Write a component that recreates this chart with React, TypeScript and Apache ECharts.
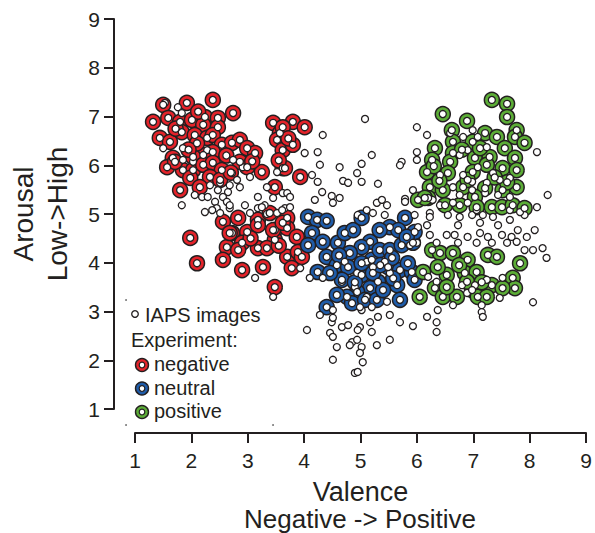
import React, { useEffect, useRef } from "react";
import * as echarts from "echarts";

// ---- axis ticks ----
const xTicks = [1, 2, 3, 4, 5, 6, 7, 8, 9];
const yTicks = [1, 2, 3, 4, 5, 6, 7, 8, 9];

// ---- Experiment: negative images [valence, arousal] ----
const negative: number[][] = [
  [1.92, 7.28], [2.38, 7.34], [1.5, 7.24], [2.74, 7.07], [1.32, 6.89], [1.59, 6.97], [1.8, 6.89], [2.01, 6.93],
  [2.24, 6.99], [2.47, 6.97], [2.21, 6.83], [2.47, 6.78], [1.44, 6.56], [1.62, 6.48], [1.83, 6.68], [2.06, 6.62],
  [2.28, 6.56], [2.38, 6.62], [2.54, 6.42], [2.72, 6.46], [2.86, 6.52], [2.99, 6.35], [3.13, 6.25], [2.38, 6.27],
  [2.21, 6.21], [2.03, 6.17], [1.67, 6.15], [1.57, 5.96], [1.85, 5.9], [1.71, 6.07], [2.03, 5.9], [2.21, 6.01],
  [2.38, 6.05], [2.54, 5.9], [2.33, 5.76], [2.51, 5.7], [2.86, 6.07], [2.99, 5.96], [3.25, 5.86], [1.8, 5.49],
  [1.98, 5.74], [3.45, 6.87], [3.57, 6.66], [3.52, 6.52], [3.62, 6.31], [3.62, 5.94], [3.48, 5.55], [3.8, 6.89],
  [4.01, 6.78], [3.8, 6.42], [3.66, 5.94], [3.93, 5.76], [3.62, 6.78],
  [2.1, 6.45], [1.95, 6.32], [2.62, 6.2], [2.7, 5.85], [3.08, 6.08], [2.15, 5.55], [1.72, 6.75], [2.12, 7.1],
  [3.55, 6.1], [3.72, 6.55],
  [2.56, 4.84], [2.83, 4.92], [2.72, 4.61], [2.99, 4.63], [3.18, 4.88], [3.18, 4.77], [3.39, 5.02], [3.7, 4.92],
  [3.48, 4.67], [3.7, 4.71], [3.48, 4.47], [3.87, 4.53], [1.98, 4.51], [2.63, 4.32], [2.9, 4.41], [3.18, 4.3],
  [3.34, 4.3], [3.7, 4.12], [3.89, 4.22], [3.96, 4.12], [2.56, 4.06], [2.1, 3.99], [2.9, 3.85], [3.27, 3.91],
  [3.78, 3.89], [3.48, 3.5], [2.83, 4.26], [2.68, 4.61], [3.45, 4.67], [3.62, 4.82], [3.05, 4.5], [3.55, 4.35]
];

// ---- Experiment: neutral images ----
const neutral: number[][] = [
  [4.07, 4.94], [4.23, 4.88], [4.4, 4.86], [4.14, 4.61], [4.33, 4.43], [4.07, 4.36], [4.6, 4.41], [4.72, 4.61],
  [4.87, 4.67], [5.02, 4.92], [5.17, 4.43], [5.02, 4.32], [4.81, 4.2], [4.4, 4.12], [4.58, 3.95], [4.78, 3.91],
  [4.24, 3.81], [4.67, 3.65], [5.02, 3.75], [5.2, 4.06], [5.34, 4.26], [5.52, 4.26], [5.73, 4.36], [5.93, 4.41],
  [5.79, 4.92], [5.52, 4.73], [5.34, 4.67], [5.67, 4.67], [5.96, 4.63], [5.82, 4.53], [5.49, 3.91], [5.7, 3.85],
  [5.91, 3.81], [5.96, 3.65], [5.65, 3.54], [5.31, 3.61], [5.17, 3.48], [4.94, 3.4], [4.76, 3.3], [4.58, 3.34],
  [4.4, 3.09], [4.85, 3.17], [5.08, 3.24], [5.29, 3.24], [5.4, 3.44], [5.02, 3.99], [5.22, 3.79], [4.46, 3.79],
  [5.56, 4.1], [5.84, 3.99], [5.7, 3.24], [4.9, 3.6], [5.35, 3.95], [4.62, 4.15], [5.58, 3.68]
];

// ---- Experiment: positive images ----
const positive: number[][] = [
  [7.33, 7.34], [7.6, 7.26], [7.6, 6.99], [6.46, 7.05], [6.89, 6.91], [6.62, 6.72], [7.21, 6.66], [7.42, 6.58],
  [7.77, 6.72], [7.74, 6.58], [7.91, 6.46], [7.56, 6.35], [6.64, 6.48], [6.99, 6.48], [6.32, 6.35], [6.64, 6.25],
  [6.27, 6.11], [6.18, 5.86], [6.59, 6.07], [7.03, 6.15], [7.29, 6.17], [7.74, 6.15], [7.52, 5.94], [7.77, 5.9],
  [7.24, 6.01], [6.99, 5.86], [6.55, 5.84], [6.23, 5.55], [6.46, 5.49], [6.82, 5.55], [7.21, 5.53], [7.52, 5.49],
  [7.77, 5.55], [6.2, 5.33], [6.5, 5.18], [6.76, 5.18], [7.03, 5.35], [7.33, 5.14], [7.51, 5.14], [7.7, 5.18],
  [7.91, 5.12], [6.02, 5.29], [6.14, 5.33], [7.06, 5.14],
  [6.8, 6.32], [7.12, 6.35], [6.4, 5.68], [7.38, 5.75], [6.9, 5.7], [7.6, 5.65], [6.3, 5.98],
  [6.27, 4.26], [6.41, 4.2], [6.64, 4.2], [6.9, 4.06], [7.26, 4.16], [7.42, 4.12], [7.83, 3.99], [6.11, 3.81],
  [6.53, 3.75], [6.85, 3.79], [7.06, 3.81], [7.33, 3.54], [7.7, 3.69], [7.74, 3.48], [7.52, 3.48], [6.05, 3.3],
  [6.32, 3.48], [6.46, 3.3], [6.71, 3.3], [6.98, 3.44], [7.08, 3.3], [7.24, 3.3], [6.37, 3.91], [6.89, 3.61],
  [6.53, 3.5], [6.75, 3.95], [7.15, 3.6]
];

// ---- remaining IAPS images (not used in the experiment) ----
const iapsOther: number[][] = [
  [1.53, 7.28], [1.76, 7.19], [1.83, 7.07], [1.5, 6.35], [1.85, 6.35], [2.28, 6.31], [1.85, 6.11], [2.03, 6.07],
  [1.83, 5.18], [2.06, 5.39], [2.19, 5.35], [2.29, 5.35], [2.47, 5.49], [2.65, 5.45], [2.56, 5.35], [2.33, 5.59],
  [2.51, 5.64], [2.68, 5.59], [2.81, 5.7], [2.72, 5.84], [2.42, 5.25], [2.24, 5.04], [2.45, 5.12], [2.63, 5.25],
  [2.68, 5.12], [2.95, 5.18], [2.86, 5.55], [3.04, 5.76], [2.91, 5.96], [2.74, 6.11], [3.18, 5.35], [3.34, 5.55],
  [3.52, 5.86], [3.04, 5.02], [3.18, 5.12], [3.3, 5.18], [3.45, 5.33], [3.62, 5.43], [3.34, 5.0], [3.52, 5.02],
  [3.66, 5.12], [2.37, 5.08], [2.51, 5.02], [2.68, 5.18], [3.25, 5.14], [3.39, 5.02], [3.61, 5.08], [3.75, 5.14],
  [3.13, 3.69], [3.45, 3.3], [3.93, 3.89],
  [5.08, 6.95], [4.33, 6.62], [6.0, 6.78], [6.18, 6.62], [4.24, 6.27], [4.01, 6.25], [4.28, 6.01], [4.63, 5.96],
  [5.02, 6.03], [5.2, 6.21], [4.94, 5.84], [4.14, 5.8], [4.24, 5.66], [4.69, 5.68], [4.78, 5.64], [5.02, 5.66],
  [5.31, 5.62], [4.32, 5.45], [4.19, 5.29], [4.49, 5.37], [4.51, 5.23], [4.63, 5.33], [5.11, 5.08], [5.29, 5.23],
  [5.38, 5.29], [5.47, 5.18], [5.79, 5.31], [5.73, 6.07], [5.7, 6.0], [6.0, 6.27], [6.0, 6.11], [5.93, 5.49],
  [3.7, 5.43], [3.75, 5.35],
  [5.79, 5.25], [4.95, 4.98], [5.22, 5.02], [5.43, 4.98], [5.96, 4.98], [6.18, 4.77], [6.02, 4.73], [5.11, 4.02],
  [4.94, 3.79], [5.22, 3.91], [5.52, 3.79], [4.1, 3.69], [4.67, 3.61], [4.28, 2.93], [4.51, 3.03], [5.02, 3.03],
  [5.2, 3.09], [5.31, 2.89], [5.52, 2.93], [5.7, 2.78], [5.93, 2.7], [6.18, 2.89], [6.35, 2.78], [4.49, 2.78],
  [4.67, 2.68], [4.78, 2.72], [4.99, 2.68], [5.17, 2.78], [4.05, 2.62], [4.46, 2.56], [4.95, 2.62], [5.2, 2.58],
  [4.51, 2.48], [5.52, 2.42], [4.85, 2.37], [4.94, 2.42], [5.02, 2.27], [4.81, 2.31], [5.29, 2.31], [4.58, 2.27],
  [4.99, 2.15], [4.51, 2.01], [5.04, 1.96], [4.9, 1.74], [4.95, 1.76], [6.35, 2.58],
  [4.72, 4.02], [4.9, 3.5], [5.11, 3.3], [5.47, 3.2], [4.99, 3.09], [4.51, 2.87], [4.33, 3.69], [5.43, 4.02],
  [6.23, 5.02], [6.55, 4.98], [6.76, 4.94], [6.98, 4.98], [7.17, 4.98], [7.35, 4.94], [7.65, 4.88], [7.91, 4.98],
  [7.12, 4.82], [6.73, 4.77], [7.44, 4.77], [6.53, 4.57], [6.67, 4.57], [6.9, 4.53], [7.12, 4.61], [7.26, 4.53],
  [7.51, 4.57], [7.68, 4.53], [7.79, 4.67], [8.09, 4.67], [6.23, 4.57], [6.0, 4.41], [6.35, 4.41], [6.73, 4.41],
  [7.06, 4.41], [7.33, 4.41], [7.6, 4.41], [7.77, 4.43], [7.95, 4.53], [7.91, 4.26], [8.06, 4.26], [8.23, 4.3],
  [8.3, 4.1], [8.06, 3.19], [7.15, 2.99], [7.17, 2.89], [5.88, 4.36],
  [6.2, 3.71], [6.35, 3.61], [6.8, 3.54], [7.03, 3.54], [7.24, 3.65], [7.52, 3.69], [6.89, 3.38], [7.47, 3.28],
  [6.64, 3.13], [7.15, 3.13], [6.37, 3.03],
  [8.13, 6.27], [8.32, 5.39], [6.59, 6.66], [6.82, 6.58], [6.99, 6.72], [7.08, 6.58], [6.9, 6.31], [7.24, 6.37],
  [6.76, 6.21], [7.08, 5.96], [7.35, 5.84], [6.82, 5.8], [6.41, 5.8], [6.98, 5.66], [6.64, 5.55], [7.24, 5.64],
  [7.47, 5.7], [7.65, 5.74], [6.76, 5.39], [6.98, 5.49], [7.21, 5.43], [7.44, 5.39], [7.65, 5.35], [6.28, 5.29],
  [6.41, 5.18], [6.64, 5.23], [6.9, 5.23], [7.06, 5.08], [7.65, 5.08], [7.83, 5.04], [8.13, 5.14], [6.23, 4.94]
];

// ---- text labels ----
const xName = "Valence";
const xSubName = "Negative -> Positive";
const yName = "Arousal\nLow->High";
const legendIaps = "IAPS images";
const legendTitle = "Experiment:";
const legendNames = ["negative", "neutral", "positive"];
const legendColors = ["#e4232a", "#1f5ca9", "#5cad37"];

const FONT = "Liberation Sans, Arial, Helvetica, sans-serif";
const INK = "#231f20";

export default function App() {
  const ref = useRef<HTMLDivElement>(null);

  useEffect(() => {
    if (!ref.current) return;
    const chart = echarts.init(ref.current, undefined, { renderer: "svg" });

    const allIaps = iapsOther.concat(negative, neutral, positive);

    const expSeries = [negative, neutral, positive].map((d, i) => ({
      name: legendNames[i],
      type: "scatter",
      data: d,
      symbol: "circle",
      symbolSize: 15,
      itemStyle: { color: legendColors[i], borderColor: INK, borderWidth: 1.5, opacity: 1 },
      z: 2,
    }));

    const gfx: any[] = [];
    gfx.push({
      type: "text",
      x: 360,
      y: 532,
      style: {
        text: xSubName,
        font: `26px ${FONT}`,
        fill: INK,
        textAlign: "center",
        textVerticalAlign: "bottom",
      },
    });
    gfx.push({
      type: "circle",
      shape: { cx: 135, cy: 314, r: 3.3 },
      style: { fill: "#fff", stroke: INK, lineWidth: 1.3 },
    });
    gfx.push({
      type: "text",
      x: 145,
      y: 315,
      style: { text: legendIaps, font: `20px ${FONT}`, fill: INK, textVerticalAlign: "middle" },
    });
    gfx.push({
      type: "text",
      x: 131,
      y: 340,
      style: { text: legendTitle, font: `20px ${FONT}`, fill: INK, textVerticalAlign: "middle" },
    });
    legendNames.forEach((n, i) => {
      const cy = 365 + i * 23.5;
      gfx.push({
        type: "circle",
        shape: { cx: 142, cy, r: 6.5 },
        style: { fill: legendColors[i], stroke: INK, lineWidth: 1.4 },
      });
      gfx.push({
        type: "circle",
        shape: { cx: 142, cy, r: 2.8 },
        style: { fill: "#fff", stroke: INK, lineWidth: 1.2 },
      });
      gfx.push({
        type: "text",
        x: 154,
        y: cy - 1,
        style: { text: n, font: `20px ${FONT}`, fill: INK, textVerticalAlign: "middle" },
      });
    });
    [[126, 300], [273, 300], [126, 425], [273, 425]].forEach(([cx, cy]) => {
      gfx.push({ type: "circle", shape: { cx, cy, r: 0.9 }, style: { fill: "#666" } });
    });

    chart.setOption({
      animation: false,
      backgroundColor: "#fff",
      grid: { left: 135, right: 9, top: 19, bottom: 124, containLabel: false, outerBoundsMode: "none" },
      xAxis: {
        type: "value",
        min: xTicks[0],
        max: xTicks[xTicks.length - 1],
        interval: 1,
        offset: 24,
        splitLine: { show: false },
        axisLine: { show: true, onZero: false, lineStyle: { color: INK, width: 2 } },
        axisTick: { show: true, length: 10, lineStyle: { color: INK, width: 2 } },
        axisLabel: { color: INK, fontSize: 21, fontFamily: FONT, margin: 17 },
        name: xName,
        nameLocation: "middle",
        nameGap: 45,
        nameTextStyle: { color: INK, fontSize: 27, fontFamily: FONT },
      },
      yAxis: {
        type: "value",
        min: yTicks[0],
        max: yTicks[yTicks.length - 1],
        interval: 1,
        offset: 21,
        splitLine: { show: false },
        axisLine: { show: true, onZero: false, lineStyle: { color: INK, width: 2 } },
        axisTick: { show: true, length: 10, lineStyle: { color: INK, width: 2 } },
        axisLabel: { color: INK, fontSize: 21, fontFamily: FONT, margin: 14 },
        name: yName,
        nameLocation: "middle",
        nameRotate: 90,
        nameGap: 40,
        nameTextStyle: { color: INK, fontSize: 28, fontFamily: FONT, lineHeight: 34 },
      },
      series: [
        ...expSeries,
        {
          name: legendIaps,
          type: "scatter",
          data: allIaps,
          symbol: "circle",
          symbolSize: 7,
          itemStyle: { color: "#fff", borderColor: INK, borderWidth: 1.3, opacity: 1 },
          z: 3,
        },
      ],
      graphic: gfx,
    });

    return () => chart.dispose();
  }, []);

  return <div ref={ref} style={{ width: 595, height: 533, position: "absolute", left: 0, top: 0 }} />;
}
